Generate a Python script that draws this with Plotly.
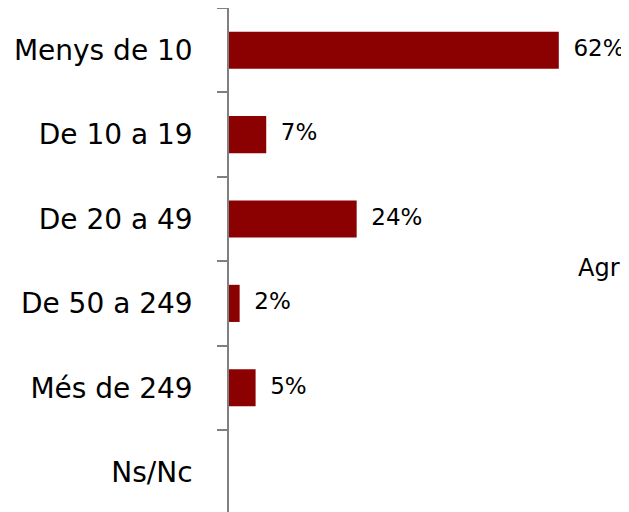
import plotly.graph_objects as go

categories = ["Menys de 10", "De 10 a 19", "De 20 a 49", "De 50 a 249", "Més de 249", "Ns/Nc"]
values = [62, 7, 24, 2, 5, None]
series_name = "Agricultura"

bar_color = "#8B0000"
font_family = "DejaVu Sans"

fig = go.Figure()
fig.add_trace(go.Bar(
    y=categories, x=[v if v is not None else 0 for v in values],
    orientation="h", marker=dict(color=bar_color, line=dict(width=0)),
    width=0.44, name=series_name, showlegend=False,
))
fig.add_trace(go.Scatter(
    y=[c for c, v in zip(categories, values) if v is not None],
    x=[v for v in values if v is not None],
    mode="text",
    text=["\u00a0\u00a0" + f"{v}%" for v in values if v is not None],
    textposition="middle right",
    textfont=dict(family=font_family, size=23, color="#000000"),
    showlegend=False, cliponaxis=False,
))

fig.add_annotation(
    text=series_name, xref="paper", yref="paper", x=0.867, y=0.484,
    xanchor="left", yanchor="middle", showarrow=False,
    font=dict(family=font_family, size=24, color="#000000"),
)

fig.update_layout(
    width=621, height=504,
    margin=dict(l=221, r=0, t=0, b=0, autoexpand=False),
    paper_bgcolor="white", plot_bgcolor="white",
    font=dict(family=font_family, color="#000000"),
    bargap=0.56,
)
fig.update_xaxes(range=[0, 75.2], visible=False, showgrid=False, zeroline=False, automargin=False)
fig.update_yaxes(
    type="category", categoryorder="array", categoryarray=categories,
    range=[5.472, -0.5], showgrid=False, zeroline=False, automargin=False,
    showline=True, linecolor="#808080", linewidth=1.5,
    ticks="outside", tickson="boundaries", ticklen=10, tickcolor="#808080", tickwidth=1.5,
    tickfont=dict(family=font_family, size=28, color="#000000"),
    ticklabelstandoff=29,
)

fig.write_html("out.html")
